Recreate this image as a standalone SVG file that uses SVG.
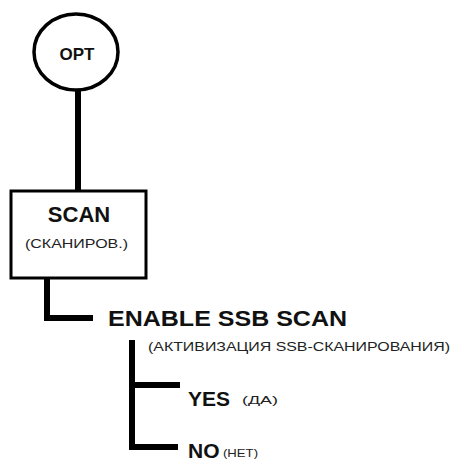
<svg xmlns="http://www.w3.org/2000/svg" width="451" height="466" viewBox="0 0 451 466">
<style>
.b{font-family:"Liberation Sans",Arial,sans-serif;font-weight:bold;fill:#111}
.s{font-family:"Liberation Sans",Arial,sans-serif;fill:#222}
.ln{fill:none;stroke:#000;stroke-width:6}
</style>
<rect width="451" height="466" fill="#fff"/>
<g id="connectors">
<line class="ln" x1="78" y1="90" x2="78" y2="191"/>
<polyline class="ln" points="47,278 47,318 93,318"/>
<polyline class="ln" points="180,385 132,385"/>
<polyline class="ln" points="132,340 132,447 178,447"/>
</g>
<g id="opt">
<ellipse cx="76" cy="52" rx="42" ry="38" fill="#fff" stroke="#000" stroke-width="3.5"/>
<text class="b" x="77" y="60" font-size="17" text-anchor="middle">OPT</text>
</g>
<g id="scan">
<rect x="11" y="191" width="135" height="87" fill="#fff" stroke="#000" stroke-width="3"/>
<text class="b" x="79" y="222" font-size="22" text-anchor="middle">SCAN</text>
<text class="s" x="25" y="248" font-size="12.5" textLength="103" lengthAdjust="spacingAndGlyphs">(СКАНИРОВ.)</text>
</g>
<g id="enable">
<text class="b" x="108" y="326" font-size="22" textLength="239" lengthAdjust="spacingAndGlyphs">ENABLE SSB SCAN</text>
<text class="s" x="148" y="351" font-size="12.5" textLength="302" lengthAdjust="spacingAndGlyphs">(АКТИВИЗАЦИЯ SSB-СКАНИРОВАНИЯ)</text>
</g>
<g id="yes">
<text class="b" x="188" y="406" font-size="21">YES</text>
<text class="s" x="242" y="404" font-size="11" textLength="36" lengthAdjust="spacingAndGlyphs">(ДА)</text>
</g>
<g id="no">
<text class="b" x="188" y="458" font-size="21">NO</text>
<text class="s" x="223" y="457" font-size="11" textLength="35" lengthAdjust="spacingAndGlyphs">(НЕТ)</text>
</g>
</svg>
